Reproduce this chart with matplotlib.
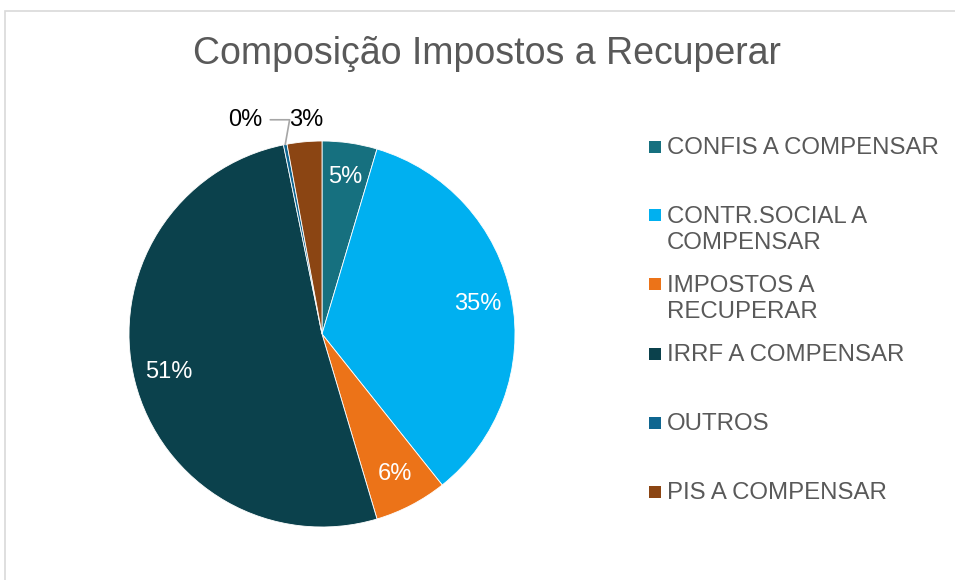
import numpy as np
import matplotlib
matplotlib.use("Agg")
import matplotlib.pyplot as plt
from matplotlib.patches import Rectangle

plt.rcParams['font.family'] = ['Liberation Sans', 'DejaVu Sans']

categories = ["CONFIS A COMPENSAR", "CONTR.SOCIAL A\nCOMPENSAR", "IMPOSTOS A\nRECUPERAR",
              "IRRF A COMPENSAR", "OUTROS", "PIS A COMPENSAR"]
values = [4.6, 34.7, 6.1, 51.4, 0.3, 2.9]
colors = ["#16707f", "#00b0f0", "#ec7318", "#0b414c", "#0f6690", "#8b4513"]

W, H = 955, 580
fig = plt.figure(figsize=(W / 100, H / 100), dpi=100)

# chart frame
fig.patches.append(Rectangle((5 / W, -0.1), 1.2, (H - 11) / H + 0.1, transform=fig.transFigure,
                             fill=False, edgecolor="#d9d9d9", linewidth=1.2))

fig.text(487 / W, 1 - 54 / H, "Composição Impostos a Recuperar", ha="center", va="center",
         fontsize=27, color="#595959")

cx, cy, r = 322, 334, 193
ax = fig.add_axes([(cx - r) / W, (H - cy - r) / H, 2 * r / W, 2 * r / H])
wedges, _ = ax.pie(values, colors=colors, startangle=90, counterclock=False, radius=1,
                   wedgeprops=dict(edgecolor="white", linewidth=0.6))
ax.set_xlim(-1, 1)
ax.set_ylim(-1, 1)
ax.set_aspect("equal")
ax.axis("off")

total = sum(values)
cum = np.cumsum([0] + values)
for i, v in enumerate(values):
    mid = np.deg2rad(90 - 360 * (cum[i] + v / 2) / total)
    lab = "%.0f%%" % (100 * v / total)
    if v / total > 0.04:
        ax.text(0.82 * np.cos(mid), 0.82 * np.sin(mid), lab, ha="center", va="center",
                fontsize=17, color="white")
    elif v / total > 0.01:
        ax.text(-0.08, 1.11, lab, ha="center", va="center", fontsize=17, color="#000000",
                clip_on=False)
    else:
        ax.annotate(lab, xy=(np.cos(mid), np.sin(mid)), xytext=(-0.40, 1.11),
                    ha="center", va="center", fontsize=17, color="#000000",
                    annotation_clip=False,
                    arrowprops=dict(arrowstyle="-", color="#a6a6a6", lw=1.2,
                                    shrinkA=4, shrinkB=0,
                                    connectionstyle="angle,angleA=0,angleB=80,rad=0"))

# legend
rows_y = [147, 229, 298, 354, 423, 492]
for name, col, y in zip(categories, colors, rows_y):
    nl = name.count("\n")
    top = y - 14 * nl
    fig.patches.append(Rectangle((649 / W, 1 - (top + 6) / H), 12 / W, 12 / H,
                                 transform=fig.transFigure, facecolor=col, edgecolor="none"))
    fig.text(667 / W, 1 - (y + 1) / H, name, ha="left", va="center", fontsize=17.3,
             color="#595959", linespacing=1.2)

fig.savefig("out.png", dpi=100)
